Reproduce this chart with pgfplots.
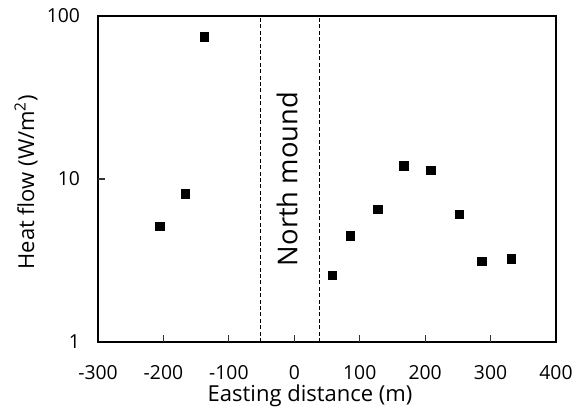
\documentclass[border=0pt]{standalone}
\usepackage{fontspec}
\setmainfont{Open Sans}
\usepackage{pgfplots}
\pgfplotsset{compat=1.18}
\usetikzlibrary{calc}

\begin{document}
\begin{tikzpicture}
\begin{axis}[
  scale only axis,
  width=343.5pt, height=244.5pt,
  ymode=log,
  xmin=-300, xmax=400,
  ymin=1, ymax=100,
  xtick={-300,-200,...,400},
  ytick={1,10,100},
  yticklabels={1,10,100},
  yminorticks=false,
  xtick pos=bottom,
  ytick pos=left,
  major tick length=0pt,
  axis line style={line width=1pt},
  /pgf/number format/assume math mode=true,
  tick label style={font=\fontsize{14.5}{17}\selectfont},
  xticklabel style={yshift=-14pt},
  yticklabel style={xshift=-10pt},
  xlabel={Easting distance (m)},
  ylabel={Heat flow (W/m\textsuperscript{2})},
  label style={font=\fontsize{16.5}{19}\selectfont},
  xlabel style={at={(axis description cs:0.463,0)}, anchor=center, yshift=-40.5pt},
  ylabel style={at={(axis description cs:-0.157,0.49)}, anchor=center},
  clip=false,
]
\addplot[only marks, mark=square*, mark size=3.3pt, black] coordinates {
  (-206,5.13) (-166.5,8.09) (-137.5,75)
  (58,2.57) (85.7,4.51) (127,6.52) (167.7,12.0) (208,11.3)
  (252,6.07) (286,3.13) (331.7,3.23)};
\addplot[black, line width=0.75pt, dash pattern=on 3pt off 1.8pt] coordinates {(-52,1) (-52,100)};
\addplot[black, line width=0.75pt, dash pattern=on 3pt off 1.8pt] coordinates {(38,1) (38,100)};
\node[rotate=90, font=\fontsize{20.5}{24}\selectfont] at (axis cs:-11,10) {North mound};
% tick marks
\pgfplotsinvokeforeach{-200,-100,0,100,200,300}{
  \draw[line width=0.8pt, black!80] (axis cs:#1,1) -- ([yshift=5pt]axis cs:#1,1);
}
\draw[line width=0.8pt, black!80] (axis cs:-300,10) -- ([xshift=5pt]axis cs:-300,10);
\coordinate (sw) at (rel axis cs:0,0);
\coordinate (ne) at (rel axis cs:1,1);
\end{axis}
\pgfresetboundingbox
\useasboundingbox ($(sw)+(-73.5pt,-56.25pt)$) rectangle ($(ne)+(17.25pt,12pt)$);
\end{tikzpicture}
\end{document}
